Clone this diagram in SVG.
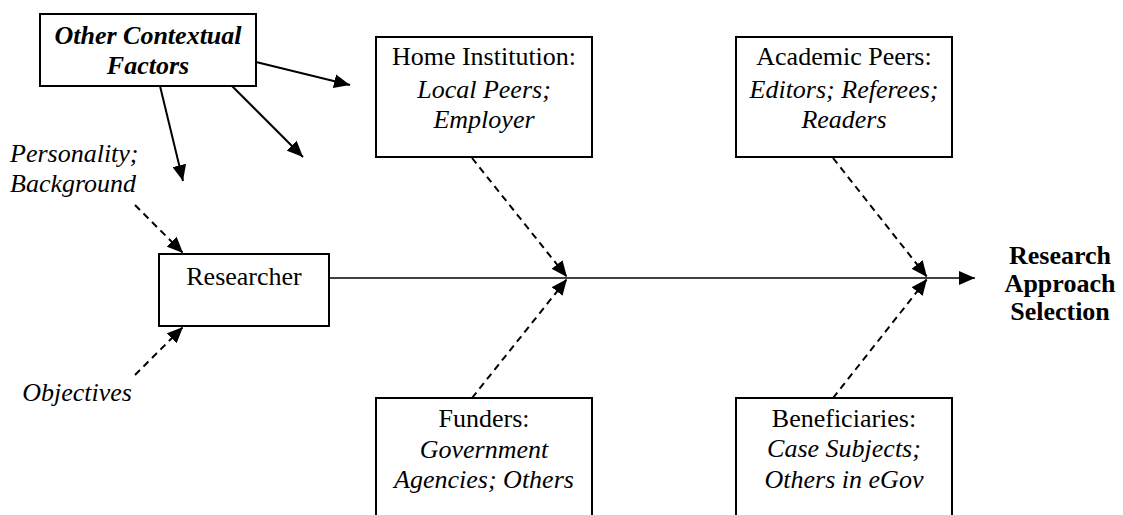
<svg xmlns="http://www.w3.org/2000/svg" width="1123" height="515" viewBox="0 0 1123 515">
<defs>
<style>
text{font-family:"Liberation Serif","Times New Roman",serif;font-size:26px;fill:#000}
.c{text-anchor:middle}
.i{font-style:italic}
.b{font-weight:bold}
.box{fill:#fff;stroke:#000;stroke-width:2}
.solid{stroke:#000;stroke-width:2;fill:none}
.dash{stroke:#000;stroke-width:2;fill:none;stroke-dasharray:7 5}
.main{stroke:#000;stroke-width:1.6;fill:none}
</style>
<marker id="ah" markerUnits="userSpaceOnUse" markerWidth="17" markerHeight="14" refX="16" refY="7" orient="auto">
<path d="M0,0 L16,7 L0,14 z" fill="#000"/>
</marker>
</defs>
<rect width="1123" height="515" fill="#fff"/>
<g id="connectors">
<line class="solid" x1="256" y1="62" x2="350" y2="85" marker-end="url(#ah)"/>
<line class="solid" x1="232" y1="86" x2="303" y2="157" marker-end="url(#ah)"/>
<line class="solid" x1="160" y1="86" x2="183" y2="181" marker-end="url(#ah)"/>
<line class="dash" x1="135" y1="205" x2="183" y2="253" marker-end="url(#ah)"/>
<line class="dash" x1="135" y1="375" x2="183" y2="327" marker-end="url(#ah)"/>
<line class="main" x1="329" y1="278" x2="975" y2="278" marker-end="url(#ah)"/>
<line class="dash" x1="472" y1="158" x2="567" y2="277" marker-end="url(#ah)"/>
<line class="dash" x1="472" y1="398" x2="567" y2="279" marker-end="url(#ah)"/>
<line class="dash" x1="833" y1="158" x2="927" y2="277" marker-end="url(#ah)"/>
<line class="dash" x1="833" y1="398" x2="927" y2="279" marker-end="url(#ah)"/>
</g>
<g id="other-contextual-factors">
<rect class="box" x="40" y="14" width="216" height="72"/>
<text class="c i b" x="148" y="44">Other Contextual</text>
<text class="c i b" x="148" y="74">Factors</text>
</g>
<g id="personality">
<text class="i" x="10" y="162">Personality;</text>
<text class="i" x="10" y="192">Background</text>
</g>
<g id="objectives">
<text class="c i" x="77" y="401">Objectives</text>
</g>
<g id="researcher">
<rect class="box" x="159" y="254" width="170" height="72"/>
<text class="c" x="244" y="285">Researcher</text>
</g>
<g id="home-institution">
<rect class="box" x="376" y="37" width="216" height="120"/>
<text class="c" x="484" y="65">Home Institution:</text>
<text class="c i" x="484" y="98">Local Peers;</text>
<text class="c i" x="484" y="128">Employer</text>
</g>
<g id="academic-peers">
<rect class="box" x="736" y="37" width="216" height="120"/>
<text class="c" x="844" y="65">Academic Peers:</text>
<text class="c i" x="844" y="98">Editors; Referees;</text>
<text class="c i" x="844" y="128">Readers</text>
</g>
<g id="funders">
<rect class="box" x="376" y="398" width="216" height="130"/>
<text class="c" x="484" y="427">Funders:</text>
<text class="c i" x="484" y="458">Government</text>
<text class="c i" x="484" y="488">Agencies; Others</text>
</g>
<g id="beneficiaries">
<rect class="box" x="736" y="398" width="216" height="130"/>
<text class="c" x="844" y="427">Beneficiaries:</text>
<text class="c i" x="844" y="457">Case Subjects;</text>
<text class="c i" x="844" y="488">Others in eGov</text>
</g>
<g id="research-approach-selection">
<text class="c b" x="1060" y="264">Research</text>
<text class="c b" x="1060" y="292">Approach</text>
<text class="c b" x="1060" y="320">Selection</text>
</g>
</svg>
